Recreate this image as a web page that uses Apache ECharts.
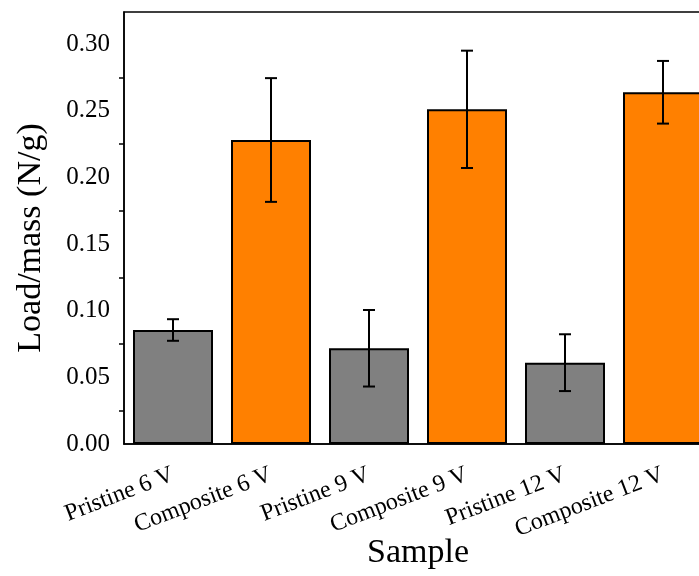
<!DOCTYPE html>
<html lang="en">
<head>
    <meta charset="UTF-8">
    <title>Load/mass by sample</title>
    <script src="https://cdn.jsdelivr.net/npm/echarts@6/dist/echarts.min.js"></script>
    <style>
        html, body { margin: 0; padding: 0; background: #fff; }
        #chart { width: 699px; height: 576px; }
    </style>
</head>
<body>
    <div id="chart"></div>
    <script>
        // values
        var categories = ['Pristine 6 V', 'Composite 6 V', 'Pristine 9 V', 'Composite 9 V', 'Pristine 12 V', 'Composite 12 V']
        var loadMass = [0.0855, 0.228, 0.0718, 0.251, 0.061, 0.2638]
        var loadErr = [0.0081, 0.0464, 0.0287, 0.044, 0.0213, 0.0235]
        var yTicks = [0, 0.05, 0.10, 0.15, 0.20, 0.25, 0.30]
        var yMinorTicks = [0.025, 0.075, 0.125, 0.175, 0.225, 0.275]

        var FONT = '"Liberation Serif", "Times New Roman", serif'
        var chart = echarts.init(document.getElementById('chart'))

        var barData = loadMass.map(function (v, i) {
            var pristine = categories[i].indexOf('Pristine') === 0
            return {
                value: v,
                itemStyle: { color: pristine ? '#808080' : '#ff8000' }
            }
        })
        var errData = loadMass.map(function (v, i) {
            return [i, v - loadErr[i], v + loadErr[i]]
        })

        function renderErr(params, api) {
            var top = api.coord([api.value(0), api.value(2)])
            var bot = api.coord([api.value(0), api.value(1)])
            var cap = 6
            var st = { stroke: '#000', lineWidth: 2 }
            return {
                type: 'group',
                children: [
                    { type: 'line', shape: { x1: top[0], y1: top[1], x2: bot[0], y2: bot[1] }, style: st },
                    { type: 'line', shape: { x1: top[0] - cap, y1: top[1], x2: top[0] + cap, y2: top[1] }, style: st },
                    { type: 'line', shape: { x1: bot[0] - cap, y1: bot[1], x2: bot[0] + cap, y2: bot[1] }, style: st }
                ]
            }
        }

        var option = {
            backgroundColor: '#fff',
            animation: false,
            // frame: right edge sits just outside the canvas, like the reference
            grid: {
                left: 124, top: 12, width: 588, height: 432,
                outerBoundsMode: 'none',
                show: true, borderColor: '#000', borderWidth: 1.5
            },
            xAxis: {
                type: 'category',
                data: categories,
                name: 'Sample',
                nameLocation: 'middle',
                nameGap: 92,
                nameMoveOverlap: false,
                nameTextStyle: { fontFamily: FONT, fontSize: 34, color: '#000', verticalAlign: 'top' },
                axisLine: { lineStyle: { color: '#000', width: 1.5 } },
                axisTick: { alignWithLabel: true, length: 9, lineStyle: { color: '#000', width: 1.5 } },
                axisLabel: {
                    interval: 0,
                    rotate: 21,
                    margin: 30,
                    fontFamily: FONT,
                    fontSize: 24,
                    color: '#000'
                }
            },
            yAxis: [{
                type: 'value',
                min: 0,
                max: 0.324,
                name: 'Load/mass (N/g)',
                nameLocation: 'middle',
                nameGap: 76,
                nameMoveOverlap: false,
                nameTextStyle: { fontFamily: FONT, fontSize: 34, color: '#000', padding: [0, 20, 0, 0] },
                splitLine: { show: false },
                axisLine: { show: true, lineStyle: { color: '#000', width: 1.5 } },
                axisTick: { customValues: yTicks, length: 9, lineStyle: { color: '#000', width: 1.5 } },
                axisLabel: {
                    customValues: yTicks,
                    margin: 14,
                    fontFamily: FONT,
                    fontSize: 25,
                    color: '#000',
                    formatter: function (v) { return v.toFixed(2) }
                }
            }, {
                // minor ticks only
                type: 'value',
                min: 0,
                max: 0.324,
                position: 'left',
                offset: 0,
                splitLine: { show: false },
                axisLine: { show: false },
                axisTick: { show: true, customValues: yMinorTicks, length: 5, lineStyle: { color: '#000', width: 1.5 } },
                axisLabel: { show: true, customValues: yMinorTicks, formatter: function () { return '' } }
            }],
            series: [{
                type: 'bar',
                data: barData,
                barWidth: 80,
                itemStyle: { borderColor: '#000', borderWidth: 2 }
            }, {
                type: 'custom',
                data: errData,
                renderItem: renderErr,
                z: 5
            }]
        }

        chart.setOption(option)
    </script>
</body>
</html>
